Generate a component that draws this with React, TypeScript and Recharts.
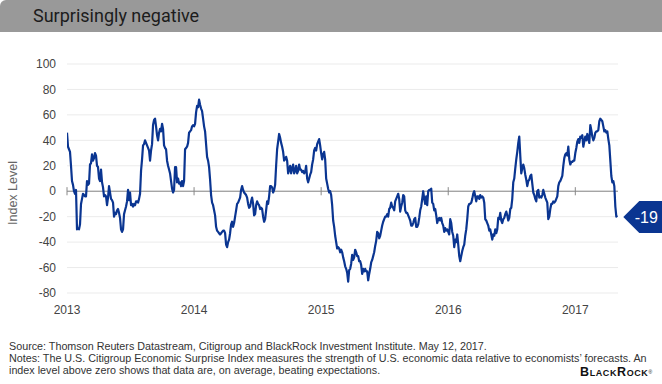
import React from 'react';
import { LineChart, Line, XAxis, YAxis, CartesianGrid, ReferenceLine, ReferenceDot } from 'recharts';

// Citigroup Economic Surprise Index (U.S.), readings ~every 2.9 days (127 per year)
const SAMPLES_PER_YEAR = 127;
const YEARS = [2013, 2014, 2015, 2016, 2017];

const INDEX_2013 = [
  46, 35, 33, 31, 20, 8, 5, 0, -2, 1, -30, -29, -30, -26, -10, -6, -2, -3, -4, -4,
  8, 5, 6, 21, 22, 29, 24, 26, 30, 28, 20, 19, 10, 8, 17, 7, 3, -4, -3, -4,
  -11, -5, 4, -1, -6, -7, -9, -20, -17, -18, -15, -14, -17, -21, -30, -32, -30, -18, -15, -12,
  -8, 1, -7, -1, -11, -10, -12, -10, -11, -8, -8, -9, -6, -2, 16, 25, 36, 37, 40, 38,
  36, 34, 32, 24, 32, 37, 52, 56, 57, 51, 44, 40, 46, 49, 47, 53, 49, 36, 34, 33,
  24, 20, 17, 14, 8, 2, -1, 1, 19, 19, 7, 10, 6, 7, 4, 8, 4, 8, 33, 34,
  35, 38, 46, 47, 48, 51, 52,
];
const INDEX_2014 = [
  51, 53, 62, 67, 66, 72, 68, 65, 63, 57, 51, 47, 37, 27, 24, 19, 9, -3, -9, -11,
  -15, -19, -28, -31, -32, -33, -34, -33, -32, -31, -31, -33, -42, -44, -40, -38, -33, -26, -24, -28,
  -25, -20, -15, -10, -9, -7, -5, 1, 4, 1, -1, -2, -3, -5, -10, -13, -12, -8, -5, -10,
  -19, -18, -11, -8, -10, -11, -14, -13, -14, -20, -24, -22, -15, -8, -10, -4, 4, 4, 3, -1,
  1, 5, 20, 33, 39, 45, 42, 38, 35, 31, 24, 25, 27, 24, 14, 17, 20, 14, 18, 21,
  14, 16, 20, 14, 16, 21, 17, 17, 15, 16, 14, 15, 20, 10, 7, 10, 13, 15, 21, 25,
  32, 34, 32, 37, 39, 41, 36,
];
const INDEX_2015 = [
  30, 25, 29, 31, 25, 10, 6, 2, -1, 0, -3, -11, -23, -28, -35, -40, -45, -44, -45, -48,
  -46, -48, -52, -55, -59, -61, -64, -71, -62, -61, -57, -50, -54, -52, -46, -48, -51, -51, -55, -55,
  -58, -65, -61, -63, -61, -63, -63, -70, -65, -61, -56, -54, -51, -48, -43, -39, -32, -33, -37, -35,
  -31, -27, -24, -22, -20, -20, -18, -20, -14, -13, -9, -12, -13, -15, -8, -6, -4, -2, -6, -16,
  -12, -9, -3, -4, -15, -17, -17, -19, -21, -23, -27, -27, -25, -22, -21, -28, -28, -26, -21, -15,
  -12, -6, 0, -6, -10, -4, -11, 0, 1, 1, 2, -9, -10, -15, -14, -19, -25, -22, -21, -23,
  -21, -25, -27, -32, -29, -31, -30,
];
const INDEX_2016 = [
  -32, -34, -22, -25, -32, -35, -44, -38, -40, -34, -42, -51, -55, -51, -47, -44, -42, -35, -30, -22,
  -12, -10, -10, -9, -6, -2, 0, -4, -8, -4, -4, -6, -3, -5, -4, -5, -9, -22, -23, -25,
  -27, -31, -30, -34, -38, -34, -35, -30, -33, -30, -21, -22, -17, -23, -25, -22, -21, -18, -16, -19,
  -23, -21, -14, -13, -6, 7, 10, 18, 25, 31, 38, 43, 28, 14, 18, 21, 18, 13, 9, 4,
  8, 9, 12, 13, 6, -1, -3, -6, -8, 0, 1, -5, -4, -5, -3, 1, -2, -5, -7, -9,
  -22, -20, -14, -10, -10, -8, -9, -8, -6, -4, 4, 7, 8, 10, 12, 20, 26, 29, 30, 28,
  35, 25, 21, 23, 23, 24, 24,
];
const INDEX_2017 = [
  30, 34, 39, 41, 38, 43, 42, 44, 35, 39, 43, 40, 45, 41, 38, 52, 48, 43, 40, 42,
  46, 47, 47, 48, 55, 57, 56, 55, 51, 47, 48, 46, 47, 41, 36, 24, 12, 7, 8, 4,
  -12, -20, -19,
];

const YEAR_TICKS = [2013, 2014, 2015, 2016, 2017];
const VALUE_TICKS = [-80, -60, -40, -20, 0, 20, 40, 60, 80, 100];
const LATEST_LABEL = '-19';

const SERIES = [INDEX_2013, INDEX_2014, INDEX_2015, INDEX_2016, INDEX_2017];
const data = SERIES.flatMap((arr, yi) =>
  arr.map((v, k) => ({ t: YEARS[yi] + k / SAMPLES_PER_YEAR, v }))
);
const last = data[data.length - 1];

const BLUE = '#0a3591';
const SANS = '"Liberation Sans", Arial, Helvetica, sans-serif';

const Callout = (props: any) => {
  const { cx, cy } = props;
  const pts = [
    [6, 1.5],
    [22, -14.5],
    [50, -14.5],
    [50, 17.5],
    [22, 17.5],
  ]
    .map(([dx, dy]) => `${cx + dx},${cy + dy}`)
    .join(' ');
  return (
    <g>
      <polygon points={pts} fill={BLUE} />
      <text
        x={cx + 29}
        y={cy + 2}
        fill="#ffffff"
        fontSize={16}
        fontFamily={SANS}
        textAnchor="middle"
        dominantBaseline="central"
      >
        {LATEST_LABEL}
      </text>
    </g>
  );
};

const footLine: React.CSSProperties = { width: 'fit-content', whiteSpace: 'nowrap' };

export default function App() {
  return (
    <div
      style={{
        position: 'fixed',
        left: 0,
        top: 0,
        width: 662,
        height: 384,
        background: '#ffffff',
        overflow: 'hidden',
        fontFamily: SANS,
      }}
    >
      <LineChart
        width={662}
        height={384}
        data={data}
        margin={{ top: 64, right: 44, bottom: 61, left: 0 }}
      >
        <CartesianGrid horizontal vertical={false} stroke="#ebebeb" strokeWidth={1} />
        <XAxis
          dataKey="t"
          type="number"
          domain={[2013, 2017.336]}
          ticks={YEAR_TICKS}
          tickFormatter={(v: number) => String(Math.round(v))}
          axisLine={false}
          tickLine={false}
          tickSize={0}
          tickMargin={12}
          height={30}
          tick={{ fill: '#444', fontSize: 12, fontFamily: SANS }}
          allowDataOverflow
        />
        <YAxis
          type="number"
          domain={[-80, 100]}
          ticks={VALUE_TICKS}
          axisLine={false}
          tickLine={false}
          tickSize={0}
          tickMargin={11}
          width={67}
          tick={{ fill: '#444', fontSize: 12, fontFamily: SANS }}
        />
        <ReferenceLine y={0} stroke="#888" strokeWidth={1} />
        {YEAR_TICKS.map((yr) => (
          <ReferenceLine
            key={yr}
            segment={[
              { x: yr, y: -3.2 },
              { x: yr, y: 3.2 },
            ]}
            stroke="#888"
            strokeWidth={1}
          />
        ))}
        <Line
          type="linear"
          dataKey="v"
          stroke={BLUE}
          strokeWidth={2.2}
          dot={false}
          isAnimationActive={false}
          strokeLinejoin="round"
        />
        <ReferenceDot x={last.t} y={last.v} ifOverflow="visible" shape={Callout} />
      </LineChart>

      <div
        style={{
          position: 'absolute',
          left: 13,
          top: 193,
          width: 0,
          height: 0,
        }}
      >
        <div
          style={{
            position: 'absolute',
            left: 0,
            top: 0,
            transform: 'translate(-50%, -50%) rotate(-90deg)',
            fontSize: 12.5,
            lineHeight: '14px',
            color: '#666',
            fontFamily: SANS,
            whiteSpace: 'nowrap',
          }}
        >
          Index Level
        </div>
      </div>

      <div
        style={{
          position: 'absolute',
          left: 0,
          top: 0,
          width: 662,
          height: 32,
          background: '#999999',
          borderTopLeftRadius: 6,
        }}
      >
        <div
          style={{
            position: 'absolute',
            left: 33,
            top: 0,
            lineHeight: '32px',
            fontSize: 18,
            fontFamily: 'Roboto, "Open Sans", sans-serif',
            color: '#1c1c1c',
            whiteSpace: 'nowrap',
          }}
        >
          Surprisingly negative
        </div>
      </div>

      <div
        style={{
          position: 'absolute',
          left: 9,
          top: 340,
          fontSize: 10.75,
          lineHeight: '12px',
          color: '#333',
          fontFamily: SANS,
        }}
      >
        <div style={footLine}>
          Source: Thomson Reuters Datastream, Citigroup and BlackRock Investment Institute. May 12, 2017.
        </div>
        <div style={footLine}>
          Notes: The U.S. Citigroup Economic Surprise Index measures the strength of U.S. economic data relative to economists’ forecasts. An
        </div>
        <div style={footLine}>index level above zero shows that data are, on average, beating expectations.</div>
      </div>

      <div
        style={{
          position: 'absolute',
          left: 580,
          top: 367,
          fontSize: 12.5,
          lineHeight: '10px',
          fontWeight: 700,
          fontVariant: 'small-caps',
          letterSpacing: 0.6,
          color: '#111',
          fontFamily: SANS,
          whiteSpace: 'nowrap',
        }}
      >
        BlackRock<span style={{ fontSize: 5, verticalAlign: 'top', fontWeight: 400 }}>®</span>
      </div>
    </div>
  );
}
